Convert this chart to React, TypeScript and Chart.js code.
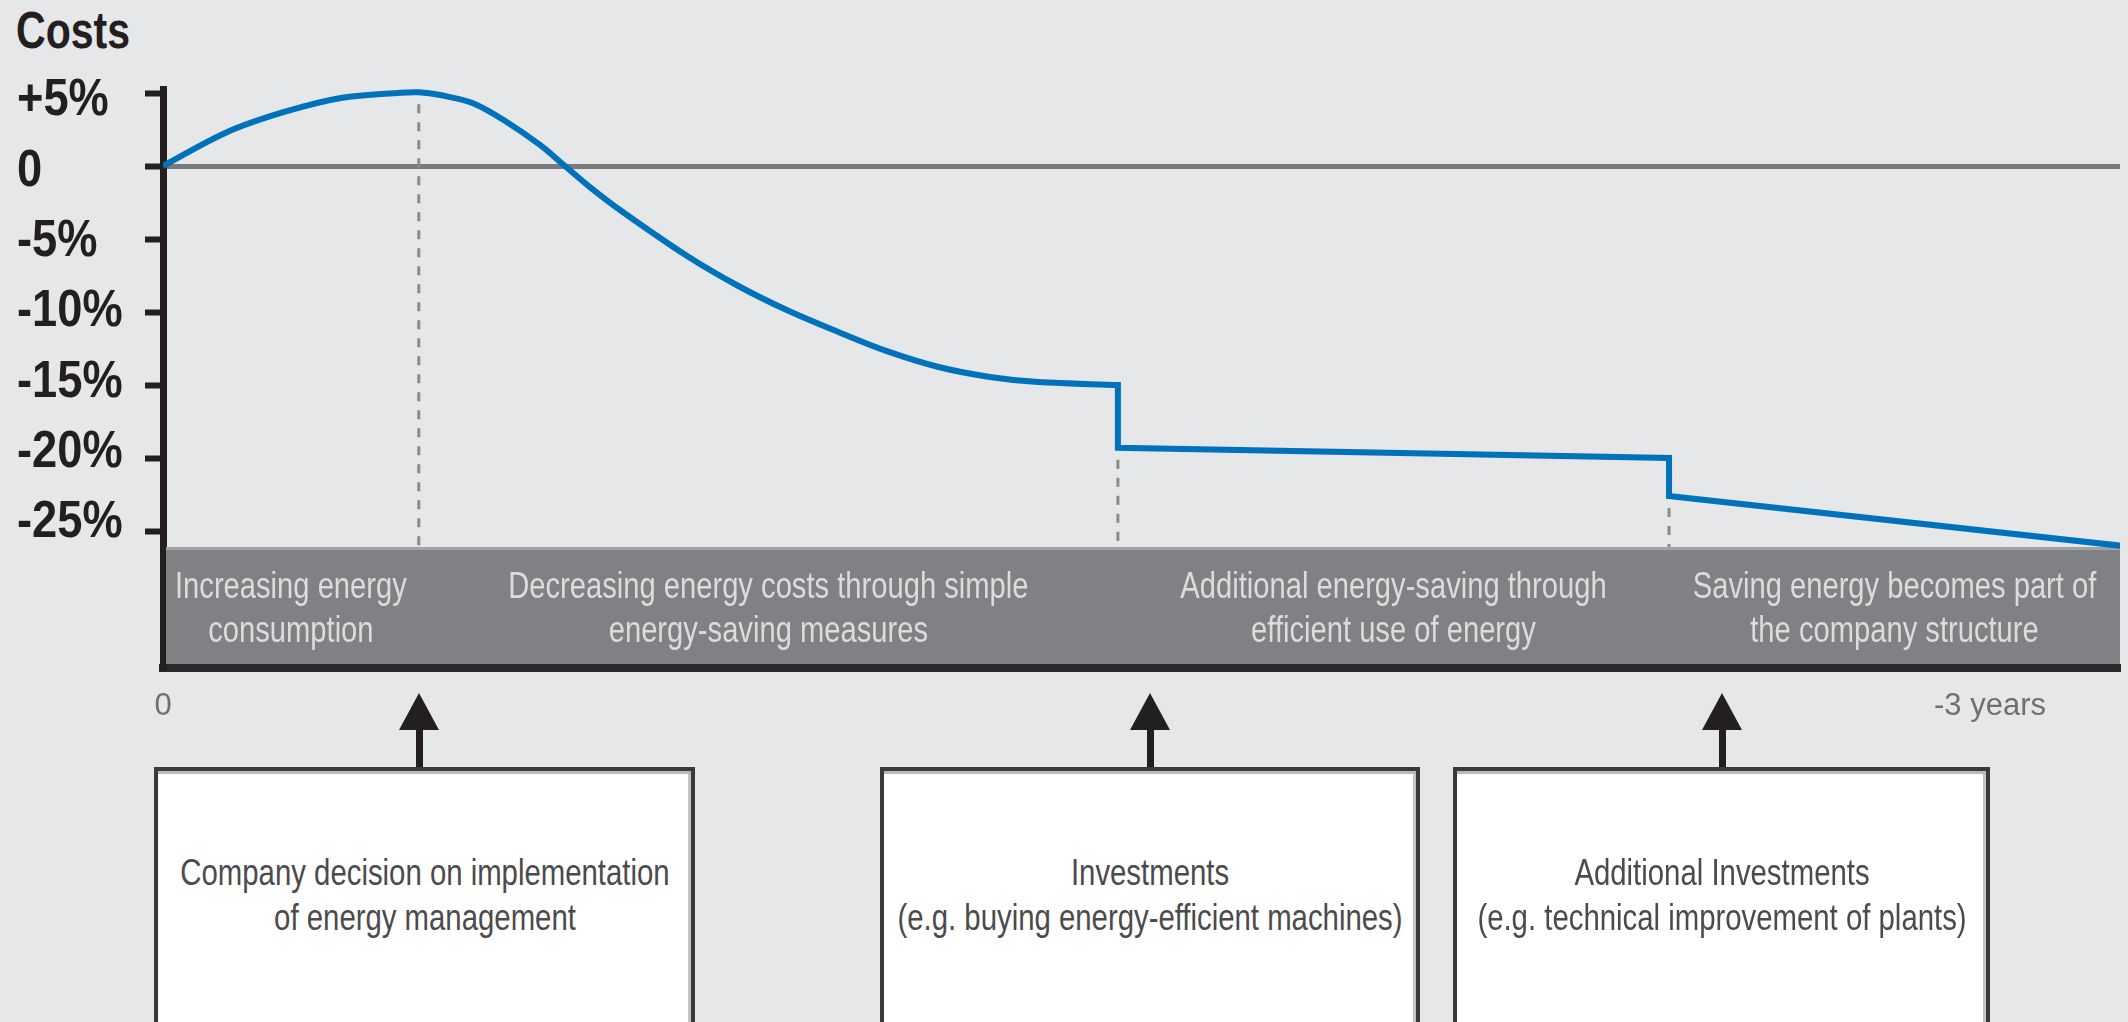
import React, { useEffect, useRef } from "react";
import { Chart, registerables } from "chart.js";

Chart.register(...registerables);

// ---------- data ----------
const CURVE_X = [0, 0.104, 0.199, 0.292, 0.39, 0.42, 0.455, 0.509, 0.565, 0.619, 0.66, 0.701, 0.755, 0.862, 0.944, 1.026, 1.108, 1.19, 1.272, 1.355, 1.437, 1.568];
const CURVE_Y = [0, 2.3, 3.7, 4.66, 5.02, 5.05, 4.86, 4.3, 3.0, 1.44, 0, -1.44, -3.15, -6.2, -8.2, -9.9, -11.35, -12.7, -13.75, -14.43, -14.8, -15.0];
const STEP_X = [1.568, 1.568, 2.473, 2.473, 3.2135];
const STEP_Y = [-15.0, -19.3, -20.0, -22.6, -26.0];

const Y_TICKS = [5, 0, -5, -10, -15, -20, -25];
const Y_TICK_LABELS = ["+5%", "0", "-5%", "-10%", "-15%", "-20%", "-25%"];
const X_TICKS = [0, 3];
const X_TICK_LABELS = ["0", "-3 years"];

const PHASE_BOUNDS = [0, 0.42, 1.568, 2.473, 3.2135];
const PHASE_LABELS = [
  ["Increasing energy", "consumption"],
  ["Decreasing energy costs through simple", "energy-saving measures"],
  ["Additional energy-saving through", "efficient use of energy"],
  ["Saving energy becomes part of", "the company structure"],
];
const MARKER_X = [0.42, 1.568, 2.473];
const MARKER_FROM = [5.05, -19.3, -22.6];
const BAND_TOP = -26.1;

const BOX_TEXTS = [
  ["Company decision on implementation", "of energy management"],
  ["Investments", "(e.g. buying energy-efficient machines)"],
  ["Additional Investments", "(e.g. technical improvement of plants)"],
];

const Y_MIN = -34.38;
const Y_MAX = 5.274;
const X_MAX = 3.2135;

// ---------- layout / style ----------
const FONT = '"Liberation Sans", Arial, Helvetica, sans-serif';
const NARROW = 0.815;
const BLUE = "#0072bc";
const BOX_LEFT = [154, 880, 1453];
const BOX_WIDTH = [541, 540, 537];
const ARROW_X = [419, 1150, 1722];

function narrowText(ctx: any, text: string, x: number, y: number, sx: number) {
  ctx.save();
  ctx.translate(x, y);
  ctx.scale(sx, 1);
  ctx.fillText(text, 0, 0);
  ctx.restore();
}

const decorPlugin = {
  id: "decor",
  beforeDatasetsDraw(chart: any) {
    const { ctx, chartArea, scales } = chart;
    const xs = scales.x;
    const ys = scales.y;
    const top = ys.getPixelForValue(BAND_TOP);
    const bottom = chartArea.bottom - 4;
    const left = chartArea.left + 3;
    const w = chartArea.right - left;
    ctx.save();
    ctx.fillStyle = "#808185";
    ctx.fillRect(left, top, w, bottom - top);
    ctx.fillStyle = "#a3a4a6";
    ctx.fillRect(left, top, w, 3);

    ctx.strokeStyle = "#8a8a8a";
    ctx.lineWidth = 3;
    ctx.setLineDash([9, 9]);
    MARKER_X.forEach((mx, i) => {
      const px = xs.getPixelForValue(mx);
      ctx.beginPath();
      ctx.moveTo(px, ys.getPixelForValue(MARKER_FROM[i]) + 12);
      ctx.lineTo(px, top);
      ctx.stroke();
    });
    ctx.setLineDash([]);

    ctx.fillStyle = "#dcdcdc";
    ctx.font = `36px ${FONT}`;
    ctx.textAlign = "center";
    ctx.textBaseline = "middle";
    PHASE_LABELS.forEach((lines, i) => {
      const cx = xs.getPixelForValue((PHASE_BOUNDS[i] + PHASE_BOUNDS[i + 1]) / 2);
      lines.forEach((t, j) => narrowText(ctx, t, cx, top + 41 + j * 44, 0.81));
    });

    // y tick labels (condensed bold), slightly tighter spacing than the ticks
    ctx.fillStyle = "#231f20";
    ctx.font = `bold 52px ${FONT}`;
    ctx.textAlign = "left";
    ctx.textBaseline = "middle";
    Y_TICKS.forEach((v, i) => {
      narrowText(ctx, Y_TICK_LABELS[i], 17, ys.getPixelForValue(v) + 8 - i * 2.7, 0.87);
    });
    ctx.restore();
  },
};

export default function App() {
  const ref = useRef<HTMLCanvasElement | null>(null);

  useEffect(() => {
    if (!ref.current) return;
    const chart = new Chart(ref.current, {
      type: "line",
      data: {
        datasets: [
          {
            data: CURVE_X.map((x, i) => ({ x, y: CURVE_Y[i] })),
            borderColor: BLUE,
            borderWidth: 6,
            pointRadius: 0,
            tension: 0.35,
            fill: false,
          } as any,
          {
            data: STEP_X.map((x, i) => ({ x, y: STEP_Y[i] })),
            borderColor: BLUE,
            borderWidth: 6,
            pointRadius: 0,
            tension: 0,
            borderJoinStyle: "miter",
            borderCapStyle: "square",
            fill: false,
          } as any,
        ],
      },
      options: {
        animation: false,
        responsive: false,
        layout: { padding: { left: 17, top: 89, right: 8, bottom: 12 } },
        plugins: { legend: { display: false }, tooltip: { enabled: false } },
        scales: {
          x: {
            type: "linear",
            min: 0,
            max: X_MAX,
            afterBuildTicks: (s: any) => {
              s.ticks = X_TICKS.map((v) => ({ value: v }));
            },
            afterFit: (s: any) => {
              s.height = 60;
            },
            ticks: {
              callback: (_v: any, i: number) => X_TICK_LABELS[i],
              font: { family: FONT, size: 31 },
              color: "#707070",
              padding: 20,
              maxRotation: 0,
              autoSkip: false,
            },
            grid: { drawOnChartArea: false, drawTicks: false },
            border: { color: "#2a292b", width: 8 },
          },
          y: {
            type: "linear",
            min: Y_MIN,
            max: Y_MAX,
            afterBuildTicks: (s: any) => {
              s.ticks = Y_TICKS.map((v) => ({ value: v }));
            },
            afterFit: (s: any) => {
              s.width = 146;
            },
            ticks: {
              display: false,
              callback: (_v: any, i: number) => Y_TICK_LABELS[i],
              autoSkip: false,
            },
            grid: {
              color: (c: any) => (c.tick && c.tick.value === 0 ? "#7a7a7a" : "rgba(0,0,0,0)"),
              lineWidth: 5,
              tickColor: "#231f20",
              tickLength: 18,
              tickWidth: 6,
            },
            border: { color: "#231f20", width: 7 },
          },
        },
      } as any,
      plugins: [decorPlugin],
    });
    return () => chart.destroy();
  }, []);

  const lineStyle: React.CSSProperties = {
    width: 900,
    marginLeft: "50%",
    transform: `translateX(-50%) scaleX(${NARROW})`,
    whiteSpace: "nowrap",
    textAlign: "center",
  };

  return (
    <div
      style={{
        position: "absolute",
        left: 0,
        top: 0,
        width: 2128,
        height: 1022,
        background: "#e6e7e9",
        overflow: "hidden",
        fontFamily: FONT,
      }}
    >
      <div
        style={{
          position: "absolute",
          left: 16,
          top: 4,
          fontSize: 52,
          fontWeight: "bold",
          lineHeight: "52px",
          color: "#231f20",
          transform: "scaleX(0.79)",
          transformOrigin: "left center",
          whiteSpace: "nowrap",
        }}
      >
        Costs
      </div>
      <canvas
        ref={ref}
        width={2128}
        height={740}
        style={{ position: "absolute", left: 0, top: 0, width: 2128, height: 740 }}
      />
      {ARROW_X.map((ax, i) => (
        <React.Fragment key={"a" + i}>
          <div
            style={{
              position: "absolute",
              left: ax - 20,
              top: 693,
              width: 0,
              height: 0,
              borderLeft: "20px solid transparent",
              borderRight: "20px solid transparent",
              borderBottom: "37px solid #231f20",
            }}
          />
          <div
            style={{
              position: "absolute",
              left: ax - 3.5,
              top: 728,
              width: 7,
              height: 40,
              background: "#231f20",
            }}
          />
        </React.Fragment>
      ))}
      {BOX_TEXTS.map((lines, i) => (
        <div
          key={"b" + i}
          style={{
            position: "absolute",
            left: BOX_LEFT[i],
            top: 767,
            width: BOX_WIDTH[i],
            height: 400,
            boxSizing: "border-box",
            background: "#ffffff",
            border: "4px solid #3a3a3a",
            boxShadow: "inset 0 3px 0 #b9b9b9, inset -3px 0 0 #c4c4c4",
            paddingTop: 79,
            fontSize: 36,
            lineHeight: "45px",
            color: "#4b4b4b",
            overflow: "hidden",
          }}
        >
          {lines.map((t, j) => (
            <div key={j} style={lineStyle}>
              {t}
            </div>
          ))}
        </div>
      ))}
    </div>
  );
}
